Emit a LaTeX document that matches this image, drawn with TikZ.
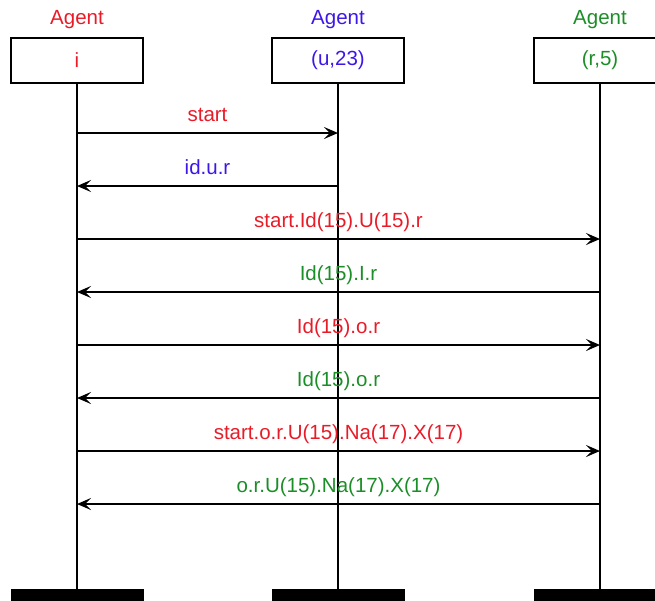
\documentclass[tikz,border=0pt]{standalone}
\usepackage{fontspec}
\setmainfont{Liberation Sans}
\usetikzlibrary{arrows.meta}
\definecolor{cred}{RGB}{232,28,40}
\definecolor{cblue}{RGB}{62,22,232}
\definecolor{cgreen}{RGB}{28,142,40}
\begin{document}
\begin{tikzpicture}[x=1pt,y=-1pt,
  font=\fontsize{20.5}{24}\selectfont,
  agentbox/.style={draw, line width=2.6pt, minimum width=132pt, minimum height=45pt, inner sep=0pt},
  agentlabel/.style={inner sep=0pt},
  lifeline/.style={line width=2.6pt},
  msg/.style={line width=2.4pt, -{Stealth[length=14pt,width=12pt,inset=6pt]}},
  msglabel/.style={midway, anchor=center, yshift=17pt, inner sep=0pt, text height=15pt, text depth=4pt},
  endbar/.style={fill=black, draw=black, minimum width=132pt, minimum height=11pt, inner sep=0pt}]
\useasboundingbox (0,0) rectangle (655,600);
\clip (0,0) rectangle (655,600);
% agent headers
\node[agentlabel, text=cred] (LA) at (77,20) {Agent};
\node[agentlabel, text=cblue] (LB) at (338,20) {Agent};
\node[agentlabel, text=cgreen] (LC) at (600,20) {Agent};
\node[agentbox, text=cred] (A) at (77,60.5) {i};
\node[agentbox, text=cblue] (B) at (338,60.5) {(u,23)};
\node[agentbox, text=cgreen] (C) at (600,60.5) {(r,5)};
% end bars
\node[endbar] (EA) at (77,595) {};
\node[endbar] (EB) at (338,595) {};
\node[endbar] (EC) at (600,595) {};
% lifelines
\draw[lifeline] (A.south) -- (EA.north);
\draw[lifeline] (B.south) -- (EB.north);
\draw[lifeline] (C.south) -- (EC.north);
% message anchor points
\foreach \n/\y in {1/133,2/186,3/239,4/292,5/345,6/398,7/451,8/504}{
  \coordinate (a\n) at (77,\y);
  \coordinate (b\n) at (338,\y);
  \coordinate (c\n) at (600,\y);
}
% messages
\draw[msg] (a1) -- node[msglabel, text=cred] {start} (b1);
\draw[msg] (b2) -- node[msglabel, text=cblue] {id.u.r} (a2);
\draw[msg] (a3) -- node[msglabel, text=cred] {start.Id(15).U(15).r} (c3);
\draw[msg] (c4) -- node[msglabel, text=cgreen] {Id(15).I.r} (a4);
\draw[msg] (a5) -- node[msglabel, text=cred] {Id(15).o.r} (c5);
\draw[msg] (c6) -- node[msglabel, text=cgreen] {Id(15).o.r} (a6);
\draw[msg] (a7) -- node[msglabel, text=cred] {start.o.r.U(15).Na(17).X(17)} (c7);
\draw[msg] (c8) -- node[msglabel, text=cgreen] {o.r.U(15).Na(17).X(17)} (a8);
\end{tikzpicture}
\end{document}
